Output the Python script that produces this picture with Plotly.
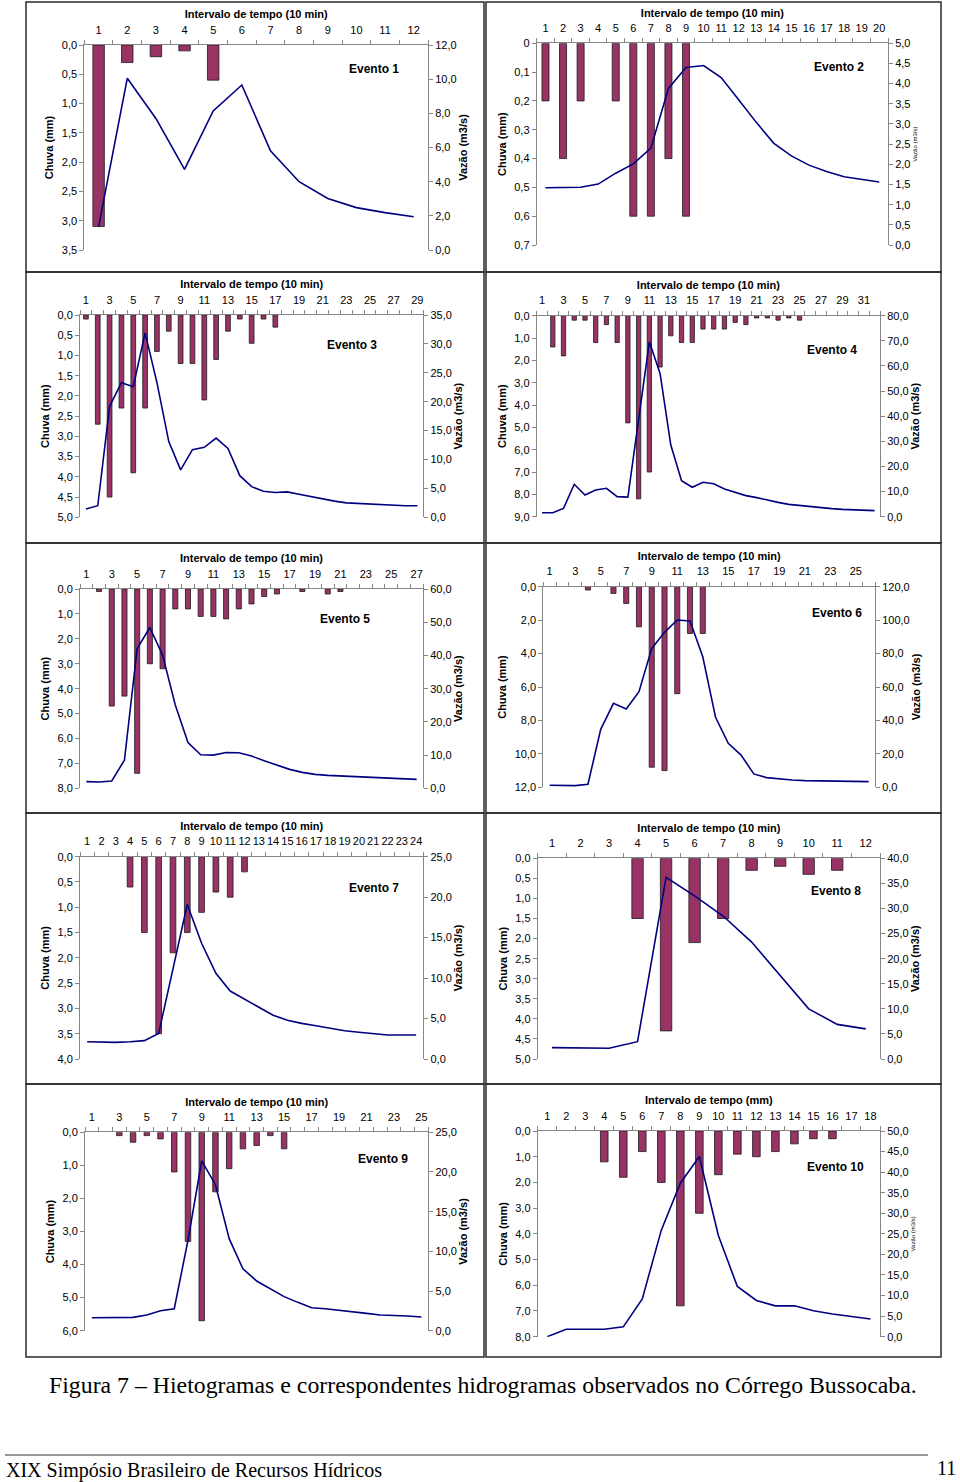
import plotly.graph_objects as go

W, H = 960, 1482

# ---------------- data ----------------
chuva1 = [3.1, 0.3, 0.2, 0.1, 0.6, 0, 0, 0, 0, 0, 0, 0]
vazao1 = [1.37, 10.05, 7.7, 4.72, 8.14, 9.66, 5.81, 4.0, 3.02, 2.48, 2.19, 1.95]

chuva2 = [0.2, 0.4, 0.2, 0, 0.2, 0.6, 0.6, 0.4, 0.6, 0, 0, 0, 0, 0, 0, 0, 0, 0, 0, 0]
vazao2 = [1.42, 1.42, 1.43, 1.51, 1.78, 2.01, 2.40, 3.88, 4.40, 4.45, 4.15, 3.60,
          3.04, 2.52, 2.21, 1.98, 1.82, 1.69, 1.63, 1.56]

chuva3 = [0.1, 2.7, 4.5, 2.3, 3.9, 2.3, 0.9, 0.4, 1.2, 1.2, 2.1, 1.1, 0.4, 0.1, 0.7,
          0.1, 0.3, 0, 0, 0, 0, 0, 0, 0, 0, 0, 0, 0, 0]
vazao3 = [1.45, 2.0, 19.2, 23.3, 22.6, 31.9, 23.3, 13.1, 8.2, 11.7, 12.1, 13.7, 11.9,
          7.2, 5.3, 4.5, 4.3, 4.4, 4.0, 3.6, 3.1, 2.8, 2.5, 2.4, 2.3, 2.1, 2.1, 2.0, 2.0]

chuva4 = [0, 1.4, 1.8, 0.2, 0.2, 1.2, 0.4, 1.2, 4.8, 8.2, 7.0, 2.3, 0.9, 1.2, 1.2, 0.6,
          0.6, 0.6, 0.3, 0.4, 0.1, 0.1, 0.2, 0.1, 0.2, 0, 0, 0, 0, 0, 0, 0]
vazao4 = [1.6, 1.6, 3.3, 12.9, 8.6, 10.6, 11.3, 8.0, 7.8, 37.8, 69.6, 57.0, 28.5, 14.3,
          11.7, 13.7, 13.1, 11.0, 9.7, 8.4, 7.6, 6.6, 5.7, 4.9, 4.4, 4.0, 3.6, 3.2,
          2.9, 2.8, 2.5, 2.4]

chuva5 = [0, 0.1, 4.7, 4.3, 7.4, 3.0, 3.2, 0.8, 0.8, 1.1, 1.1, 1.2, 0.8, 0.6, 0.3, 0.2,
          0, 0.1, 0, 0.2, 0.1, 0, 0, 0, 0, 0, 0]
vazao5 = [2.0, 1.9, 2.2, 8.5, 42.1, 48.4, 40.1, 25.1, 13.8, 10.1, 10.0, 10.8, 10.7, 9.7,
          8.3, 7.0, 5.7, 4.8, 4.2, 3.9, 3.7, 3.5, 3.3, 3.1, 2.9, 2.8, 2.7]

chuva6 = [0, 0, 0, 0.2, 0, 0.4, 1.0, 2.4, 10.8, 11.0, 6.4, 2.8, 2.8, 0, 0, 0, 0, 0, 0,
          0, 0, 0, 0, 0, 0, 0]
vazao6 = [1.2, 1.0, 1.0, 1.8, 34.7, 50.2, 46.8, 57.2, 83.1, 92.7, 100.1, 99.5, 78.1,
          41.9, 26.3, 19.3, 8.0, 5.8, 5.0, 4.4, 4.0, 3.8, 3.6, 3.6, 3.4, 3.4]

chuva7 = [0, 0, 0, 0.6, 1.5, 3.5, 1.9, 1.5, 1.1, 0.7, 0.8, 0.3, 0, 0, 0, 0, 0, 0, 0, 0,
          0, 0, 0, 0]
vazao7 = [2.14, 2.1, 2.06, 2.14, 2.27, 3.17, 11.0, 19.1, 14.3, 10.6, 8.4, 7.4, 6.3, 5.4,
          4.8, 4.4, 4.1, 3.8, 3.5, 3.3, 3.1, 2.97, 2.97, 2.97]

chuva8 = [0, 0, 0, 1.5, 4.3, 2.1, 1.5, 0.3, 0.2, 0.4, 0.3, 0]
vazao8 = [2.26, 2.2, 2.13, 3.45, 36.2, 32.5, 28.5, 23.3, 16.7, 10.0, 6.9, 6.0]

chuva9 = [0, 0, 0.1, 0.3, 0.1, 0.2, 1.2, 3.3, 5.7, 1.8, 1.1, 0.5, 0.4, 0.1, 0.5, 0, 0,
          0, 0, 0, 0, 0, 0, 0, 0]
vazao9 = [1.64, 1.64, 1.64, 1.68, 1.97, 2.52, 2.77, 11.4, 21.4, 18.4, 11.6, 7.8, 6.26,
          5.25, 4.29, 3.57, 2.9, 2.77, 2.6, 2.4, 2.18, 1.97, 1.93, 1.85, 1.72]

chuva10 = [0, 0, 0, 1.2, 1.8, 0.8, 2.0, 6.8, 3.2, 1.7, 0.9, 1.0, 0.8, 0.5, 0.3, 0.3, 0, 0]
vazao10 = [0.0, 1.8, 1.8, 1.8, 2.4, 9.2, 25.9, 37.3, 43.8, 24.6, 12.2, 8.8, 7.5, 7.5,
           6.3, 5.5, 4.9, 4.3]

eventos = ["Evento 1", "Evento 2", "Evento 3", "Evento 4", "Evento 5",
           "Evento 6", "Evento 7", "Evento 8", "Evento 9", "Evento 10"]
titulos_x = ["Intervalo de tempo (10 min)"] * 9 + ["Intervalo de tempo (mm)"]

chuvas = [chuva1, chuva2, chuva3, chuva4, chuva5, chuva6, chuva7, chuva8, chuva9, chuva10]
vazoes = [vazao1, vazao2, vazao3, vazao4, vazao5, vazao6, vazao7, vazao8, vazao9, vazao10]

# axis scales: (rain max, rain step, flow max, flow step, x label step)
escalas = [
    (3.5, 0.5, 12, 2, 1),
    (0.7, 0.1, 5, 0.5, 1),
    (5, 0.5, 35, 5, 2),
    (9, 1, 80, 10, 2),
    (8, 1, 60, 10, 2),
    (12, 2, 120, 20, 2),
    (4, 0.5, 25, 5, 1),
    (5, 0.5, 40, 5, 1),
    (6, 1, 25, 5, 2),
    (8, 1, 50, 5, 1),
]

# ---------------- layout geometry (pixels) ----------------
# plot area: left, right, top, bottom
areas = [
    (84.3, 428, 45, 250),
    (536.7, 888, 43.3, 245),
    (80, 423.3, 315, 517.3),
    (536.7, 880, 315.7, 516.7),
    (80, 423, 589, 788.3),
    (543.3, 875, 586.7, 787.3),
    (80, 423.3, 856.7, 1059),
    (537.7, 880, 858.3, 1059),
    (85, 428.3, 1132.3, 1330.7),
    (537.7, 880, 1131, 1336.7),
]
evento_pos = [(374, 69), (839, 67), (352, 345), (832, 350), (345, 619),
              (837, 613), (374, 888), (836, 891), (383, 1159), (835, 1167)]
boxes_x = [(26, 484), (486, 941)]
boxes_y = [(2, 272), (272, 543), (543, 813), (813, 1084), (1084, 1357)]

FONT = "Liberation Sans, Arial, sans-serif"
SERIF = "Liberation Serif, Times New Roman, serif"
AXC = "#868686"
BAR = "#993366"
LINE = "#000080"

# vertical mapping of the rendered paper (observed: ~6px inset top and bottom)
Y0, YH = 6.0, 1470.0


def fx(p):
    return p / W


def fy(p):
    return 1 - (p - Y0) / YH


def fmt(v, plain_zero=False):
    if plain_zero and v == 0:
        return "0"
    return f"{v:.1f}".replace(".", ",")


fig = go.Figure()
layout = dict(
    width=W, height=H, autosize=False,
    margin=dict(l=0, r=0, t=0, b=0, pad=0),
    paper_bgcolor="white", plot_bgcolor="white",
    showlegend=False, separators=",.",
    font=dict(family=FONT, size=11, color="black"),
)
annotations = []
shapes = []

for k in range(10):
    n = len(vazoes[k])
    cats = list(range(1, n + 1))
    rmax, rstep, fmax, fstep, xstep = escalas[k]
    l, r, t, b = areas[k]
    xid = "" if k == 0 else str(k + 1)
    ylid = "" if k == 0 else str(2 * k + 1)
    yrid = str(2 * k + 2)

    fig.add_trace(go.Bar(
        x=cats, y=[v if v else None for v in chuvas[k]], width=0.4,
        marker=dict(color=BAR, line=dict(color="#1a1a1a", width=0.8)),
        xaxis="x" + xid, yaxis="y" + ylid, name="Chuva",
    ))
    fig.add_trace(go.Scatter(
        x=cats, y=vazoes[k], mode="lines",
        line=dict(color=LINE, width=1.6),
        xaxis="x" + xid, yaxis="y" + yrid, name="Vazão",
    ))

    xticks = list(range(1, n + 1, xstep))
    layout["xaxis" + xid] = dict(
        domain=[fx(l), fx(r)], anchor="y" + ylid, side="top",
        range=[0.5, n + 0.5], tickmode="array", tickvals=xticks,
        ticktext=[str(v) for v in xticks],
        ticks="outside", ticklen=6, tickcolor="rgba(0,0,0,0)",
        minor=dict(tickmode="linear", tick0=0.5, dtick=1, ticks="outside",
                   ticklen=4, tickcolor=AXC, tickwidth=1),
        showline=True, linecolor=AXC, linewidth=1, showgrid=False, zeroline=False,
        tickfont=dict(size=11), fixedrange=True,
        title=dict(text="<b>" + titulos_x[k] + "</b>", font=dict(size=11), standoff=2),
    )
    nl = int(round(rmax / rstep))
    lvals = [round(i * rstep, 3) for i in range(nl + 1)]
    layout["yaxis" + ylid] = dict(
        domain=[fy(b), fy(t)], anchor="x" + xid, side="left",
        range=[rmax, 0], tickmode="array", tickvals=lvals,
        ticktext=[fmt(v, plain_zero=(k == 1)) for v in lvals],
        ticks="outside", ticklen=4, tickcolor=AXC,
        showline=True, linecolor=AXC, linewidth=1, showgrid=False, zeroline=False,
        tickfont=dict(size=11), fixedrange=True,
        title=dict(text="<b>Chuva (mm)</b>", font=dict(size=11), standoff=5),
    )
    nr = int(round(fmax / fstep))
    rvals = [round(i * fstep, 3) for i in range(nr + 1)]
    small = k in (1, 9)
    layout["yaxis" + yrid] = dict(
        overlaying="y" + ylid, anchor="x" + xid, side="right",
        range=[0, fmax], tickmode="array", tickvals=rvals,
        ticktext=[fmt(v) for v in rvals],
        ticks="outside", ticklen=4, tickcolor=AXC,
        showline=True, linecolor=AXC, linewidth=1, showgrid=False, zeroline=False,
        tickfont=dict(size=11), fixedrange=True,
        title=dict(text=("Vazão (m3/s)" if small else "<b>Vazão (m3/s)</b>"),
                   font=dict(size=6 if small else 11), standoff=3),
    )

    ex, ey = evento_pos[k]
    annotations.append(dict(
        xref="paper", yref="paper", x=fx(ex), y=fy(ey), text="<b>" + eventos[k] + "</b>",
        showarrow=False, xanchor="center", yanchor="middle", font=dict(size=12),
    ))

for (y0, y1) in boxes_y:
    for (x0, x1) in boxes_x:
        shapes.append(dict(type="rect", xref="paper", yref="paper",
                           x0=fx(x0), x1=fx(x1), y0=fy(y1), y1=fy(y0),
                           line=dict(color="#2a2a2a", width=1.5)))

annotations.append(dict(
    xref="paper", yref="paper", x=fx(483), y=fy(1385),
    text="Figura 7 – Hietogramas e correspondentes hidrogramas observados no Córrego Bussocaba.",
    showarrow=False, xanchor="center", yanchor="middle",
    font=dict(family=SERIF, size=23.8),
))
shapes.append(dict(type="line", xref="paper", yref="paper",
                   x0=fx(5), x1=fx(928), y0=fy(1455), y1=fy(1455),
                   line=dict(color="#333333", width=1.2)))
annotations.append(dict(
    xref="paper", yref="paper", x=fx(4), y=fy(1470),
    text="XIX Simpósio Brasileiro de Recursos Hídricos",
    showarrow=False, xanchor="left", yanchor="middle",
    font=dict(family=SERIF, size=20),
))
annotations.append(dict(
    xref="paper", yref="paper", x=fx(958), y=fy(1468), text="11",
    showarrow=False, xanchor="right", yanchor="middle",
    font=dict(family=SERIF, size=20),
))

layout["annotations"] = annotations
layout["shapes"] = shapes
fig.update_layout(**layout)
fig.write_html(
    "out.html",
    config={"displayModeBar": False, "responsive": False},
    post_script="document.body.style.margin='0';document.body.style.overflow='hidden';",
)
